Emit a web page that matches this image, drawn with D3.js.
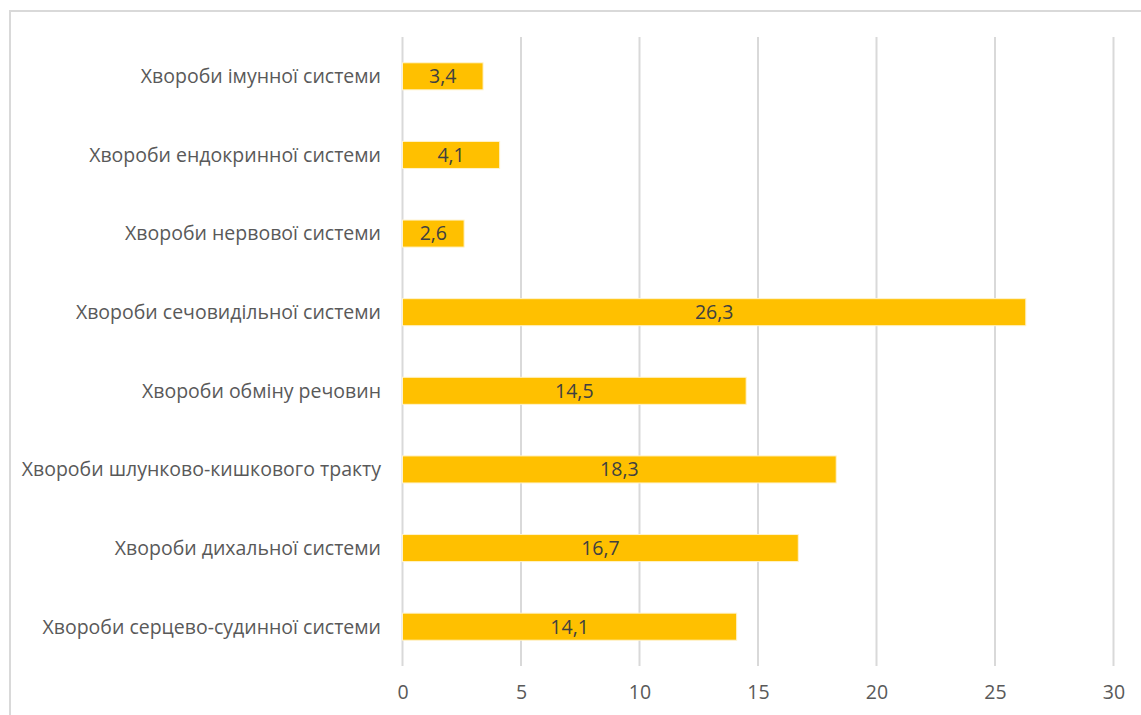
<!DOCTYPE html>
<html><head><meta charset="utf-8">
<script src="https://cdn.jsdelivr.net/npm/d3@7"></script>
<style>body{margin:0;background:#fff;}svg{display:block;}</style>
</head><body>
<svg id="c" width="1141" height="715"></svg>
<script>
const categories = [
  "Хвороби імунної системи",
  "Хвороби ендокринної системи",
  "Хвороби нервової системи",
  "Хвороби сечовидільної системи",
  "Хвороби обміну речовин",
  "Хвороби шлунково-кишкового тракту",
  "Хвороби дихальної системи",
  "Хвороби серцево-судинної системи"
];
const values = [3.4, 4.1, 2.6, 26.3, 14.5, 18.3, 16.7, 14.1];
const labels = ["3,4", "4,1", "2,6", "26,3", "14,5", "18,3", "16,7", "14,1"];
const ticks = [0, 5, 10, 15, 20, 25, 30];

const svg = d3.select("#c");
const font = "'Open Sans', 'Noto Sans', sans-serif";

// chart frame
svg.append("rect").attr("x", 10).attr("y", 11).attr("width", 1140).attr("height", 720)
  .attr("fill", "none").attr("stroke", "#d9d9d9").attr("stroke-width", 2);

const x = d3.scaleLinear().domain([0, 30]).range([402.5, 1113.5]);
const y = d3.scaleBand().domain(categories).range([37, 666]).paddingInner(0.656).paddingOuter(0.328);

// gridlines
svg.append("g").selectAll("line").data(ticks).join("line")
  .attr("x1", d => x(d)).attr("x2", d => x(d))
  .attr("y1", 37).attr("y2", 666)
  .attr("stroke", "#d9d9d9").attr("stroke-width", 2);

// bars
svg.append("g").selectAll("rect").data(values).join("rect")
  .attr("x", x(0)).attr("y", (d, i) => y(categories[i]))
  .attr("width", d => x(d) - x(0)).attr("height", y.bandwidth())
  .attr("fill", "#ffc000").attr("stroke", "#fff3cc").attr("stroke-width", 1);

// value labels
svg.append("g").selectAll("text").data(values).join("text")
  .attr("x", d => (x(0) + x(d)) / 2)
  .attr("y", (d, i) => y(categories[i]) + y.bandwidth() / 2)
  .attr("dy", "0.35em").attr("text-anchor", "middle")
  .attr("font-family", font).attr("font-size", 19.5).attr("fill", "#404040")
  .text((d, i) => labels[i]);

// category labels
svg.append("g").selectAll("text").data(categories).join("text")
  .attr("x", 381).attr("y", d => y(d) + y.bandwidth() / 2)
  .attr("dy", "0.35em").attr("text-anchor", "end")
  .attr("font-family", font).attr("font-size", 19.5).attr("fill", "#595959")
  .attr("textLength", null)
  .text(d => d);

// x axis labels
const xa = svg.append("g").attr("transform", "translate(0,666)")
  .call(d3.axisBottom(x).tickValues(ticks).tickSize(0).tickPadding(0).tickFormat(d3.format("d")));
xa.select(".domain").remove();
xa.selectAll("text").attr("y", 26).attr("dy", "0.35em")
  .attr("font-family", font).attr("font-size", 19.5).attr("fill", "#595959");
</script>
</body></html>
